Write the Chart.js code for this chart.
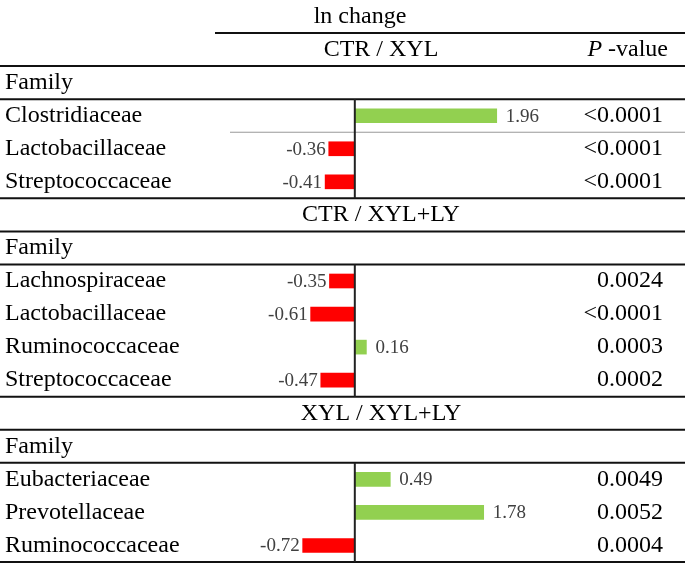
<!DOCTYPE html>
<html lang="en">
<head>
  <meta charset="UTF-8">
  <title>ln change</title>
  <script src="https://cdn.jsdelivr.net/npm/chart.js"></script>
  <style>
    body { margin: 0; background: #fff; }
    .wrap { width: 685px; height: 587px; }
  </style>
</head>
<body>
  <div class="wrap"><canvas id="chart"></canvas></div>

  <script>
    // comparisons
    const comparisons = ["CTR / XYL", "CTR / XYL+LY", "XYL / XYL+LY"];

    // families, ln change and P-values per comparison
    const families1 = ["Clostridiaceae", "Lactobacillaceae", "Streptococcaceae"];
    const values1 = [1.96, -0.36, -0.41];
    const pvalues1 = ["<0.0001", "<0.0001", "<0.0001"];

    const families2 = ["Lachnospiraceae", "Lactobacillaceae", "Ruminococcaceae", "Streptococcaceae"];
    const values2 = [-0.35, -0.61, 0.16, -0.47];
    const pvalues2 = ["0.0024", "<0.0001", "0.0003", "0.0002"];

    const families3 = ["Eubacteriaceae", "Prevotellaceae", "Ruminococcaceae"];
    const values3 = [0.49, 1.78, -0.72];
    const pvalues3 = ["0.0049", "0.0052", "0.0004"];

    const groups = [
      [families1, values1, pvalues1],
      [families2, values2, pvalues2],
      [families3, values3, pvalues3]
    ];

    // build table rows
    const rows = [{ kind: "title", text: "ln change" }];
    groups.forEach((g, gi) => {
      rows.push({ kind: "section", text: comparisons[gi] });
      rows.push({ kind: "family", text: "Family" });
      g[0].forEach((f, i) => {
        rows.push({ kind: "data", text: f, value: g[1][i], p: g[2][i] });
      });
    });

    const labels = rows.map((r, i) => "r" + i);
    const barData = rows.map(r => r.kind === "data" ? r.value : null);
    const barColors = barData.map(v => v === null ? "transparent" : (v >= 0 ? "#92D050" : "#FF0000"));

    const serif = "'Liberation Serif', 'Times New Roman', serif";

    const tablePlugin = {
      id: "tablePlugin",
      afterDatasetsDraw(chart) {
        const ctx = chart.ctx;
        const xs = chart.scales.x;
        const ys = chart.scales.y;
        const step = ys.getPixelForValue(1) - ys.getPixelForValue(0);
        const left = 0, right = chart.width;
        const x0 = xs.getPixelForValue(0);
        const below = i => ys.getPixelForValue(i) + step / 2;

        ctx.save();

        // horizontal rules
        const rule = (y, xa, xb, color, w) => {
          ctx.beginPath();
          ctx.strokeStyle = color;
          ctx.lineWidth = w;
          ctx.moveTo(xa, y);
          ctx.lineTo(xb, y);
          ctx.stroke();
        };
        rows.forEach((r, i) => {
          const next = rows[i + 1];
          if (r.kind === "title") rule(below(i), 215, right, "#111", 2);
          else if (r.kind === "section" || r.kind === "family") rule(below(i), left, right, "#111", 2);
          else if (!next || next.kind !== "data") rule(below(i), left, right, "#111", 2);
        });
        // thin rule under first data row
        rule(below(3), 230, right, "#999", 1);

        // zero axis in each block
        let start = null;
        rows.forEach((r, i) => {
          if (r.kind === "data" && start === null) start = i;
          const next = rows[i + 1];
          if (r.kind === "data" && (!next || next.kind !== "data")) {
            ctx.beginPath();
            ctx.strokeStyle = "#222";
            ctx.lineWidth = 2;
            ctx.moveTo(x0, below(start - 1));
            ctx.lineTo(x0, below(i));
            ctx.stroke();
            start = null;
          }
        });

        // texts
        const big = "24px " + serif;
        ctx.textBaseline = "middle";
        rows.forEach((r, i) => {
          const y = ys.getPixelForValue(i);
          if (r.kind === "title") {
            ctx.font = big;
            ctx.fillStyle = "#000";
            ctx.textAlign = "center";
            ctx.fillText(r.text, 360, y);
          } else if (r.kind === "section") {
            ctx.font = big;
            ctx.fillStyle = "#000";
            ctx.textAlign = "center";
            ctx.fillText(r.text, 381, y);
            if (i === 1) {
              ctx.textAlign = "right";
              ctx.fillText(" -value", 668, y);
              const w = ctx.measureText(" -value").width;
              ctx.font = "italic 24px " + serif;
              ctx.fillText("P", 668 - w, y);
            }
          } else {
            ctx.font = big;
            ctx.fillStyle = "#000";
            ctx.textAlign = "left";
            ctx.fillText(r.text, 5, y);
            if (r.kind === "data") {
              ctx.textAlign = "right";
              ctx.fillText(r.p, 663, y);
              // value labels
              const xe = xs.getPixelForValue(r.value);
              ctx.font = "19px " + serif;
              ctx.fillStyle = "#404040";
              if (r.value >= 0) {
                ctx.textAlign = "left";
                ctx.fillText(r.value.toFixed(2), xe + 9, y + 1);
              } else {
                ctx.textAlign = "right";
                ctx.fillText(r.value.toFixed(2), xe - 3, y + 1);
              }
            }
          }
        });
        ctx.restore();
      }
    };

    new Chart(document.getElementById("chart"), {
      type: "bar",
      data: {
        labels: labels,
        datasets: [{
          data: barData,
          backgroundColor: barColors,
          barThickness: 14,
          borderWidth: 0
        }]
      },
      options: {
        indexAxis: "y",
        responsive: true,
        maintainAspectRatio: false,
        animation: false,
        layout: { padding: { top: 0, bottom: 25, left: 0, right: 0 } },
        plugins: { legend: { display: false }, tooltip: { enabled: false } },
        scales: {
          x: { type: "linear", min: -4.9, max: 4.56, display: false },
          y: { type: "category", display: false, offset: true }
        }
      },
      plugins: [tablePlugin]
    });
  </script>
</body>
</html>
